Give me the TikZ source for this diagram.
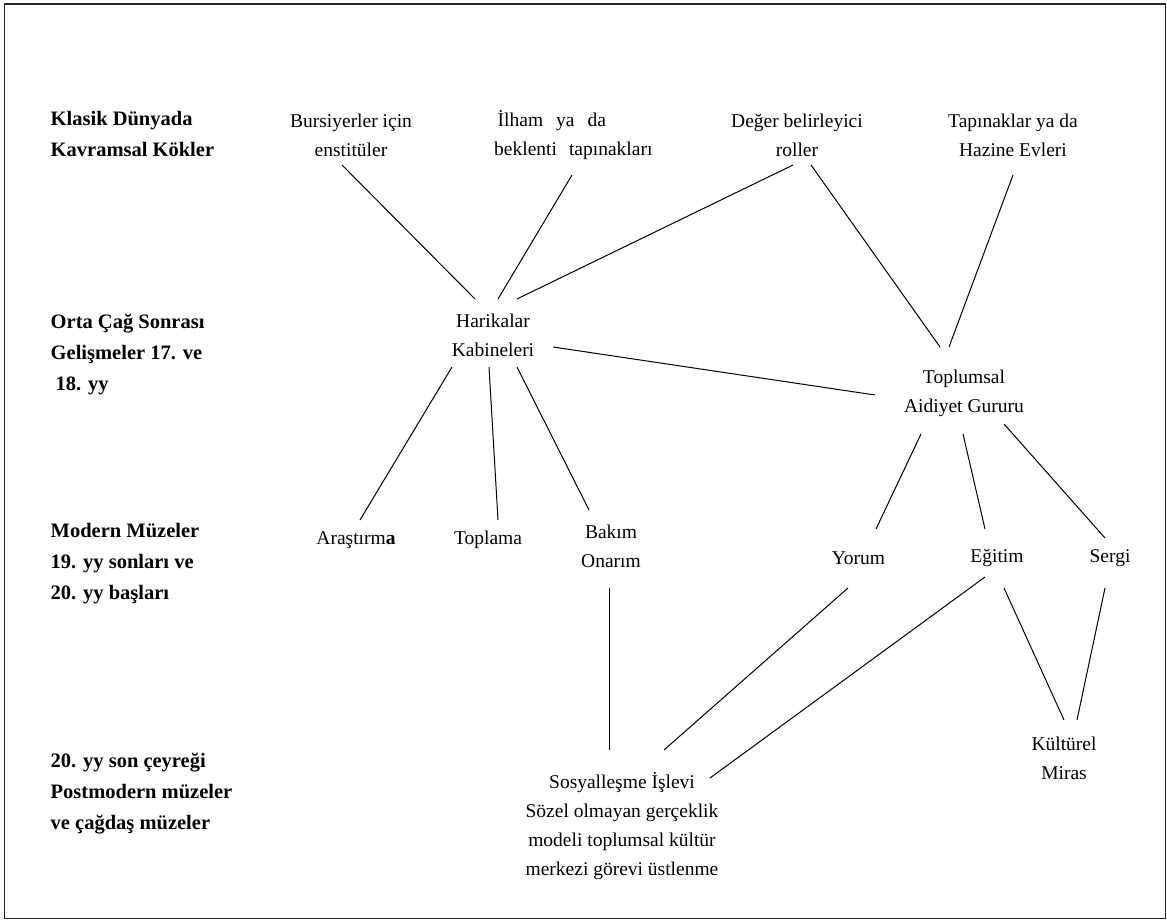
\documentclass[tikz,border=0pt]{standalone}
\usepackage{fontspec}
\setmainfont{Liberation Serif}
\usetikzlibrary{calc}
\begin{document}
\begin{tikzpicture}[x=1pt,y=-1pt,
  lbl/.style={font=\fontsize{19.5}{29}\selectfont, align=center, inner sep=0pt},
  era/.style={font=\fontsize{20.5}{31}\selectfont\bfseries, align=left, anchor=west, inner sep=0pt},
  link/.style={line width=1pt, black}]
\useasboundingbox (0,0) rectangle (1167,920);
\draw[line width=1.8pt, black!85] (4.5,4) rectangle (1165.5,918.5);

% period labels on the left
\node[era] (k1) at (50.5,134) {Klasik Dünyada\\Kavramsal Kökler};
\node[era] (k2) at (50.5,354) {Orta Çağ Sonrası\\Gelişmeler 17. ve\\\hspace*{5pt}18. yy};
\node[era] (k3) at (50.5,564) {Modern Müzeler\\19. yy sonları ve\\20. yy başları};
\node[era] (k4) at (50.5,794) {20. yy son çeyreği\\Postmodern müzeler\\ve çağdaş müzeler};

% concept nodes
\node[lbl] (burs)   at (351,135.5) {Bursiyerler için\\enstitüler};
\node[lbl, align=left, anchor=west] (ilham) at (494,135.5)
  {\hspace*{3.5pt}İlham\hspace{13pt}ya\hspace{13pt}da\\beklenti\hspace{12pt}tapınakları};
\node[lbl] (deger)  at (797,135.5) {Değer belirleyici\\roller};
\node[lbl] (tapin)  at (1013,135.5) {Tapınaklar ya da\\Hazine Evleri};
\node[lbl] (har)    at (493,335.5) {Harikalar\\Kabineleri};
\node[lbl] (top)    at (964,393) {Toplumsal\\Aidiyet Gururu};
\node[lbl] (aras)   at (356,540) {Araştırm\textbf{a}};
\node[lbl] (topl)   at (488,540) {Toplama};
\node[lbl] (bakim)  at (611,546) {Bakım\\Onarım};
\node[lbl] (yorum)  at (858.5,558) {Yorum};
\node[lbl] (egitim) at (997,558) {Eğitim};
\node[lbl] (sergi)  at (1110,558) {Sergi};
\node[lbl] (kult)   at (1064,758) {Kültürel\\Miras};
\node[lbl] (sos)    at (622,826) {Sosyalleşme İşlevi\\Sözel olmayan gerçeklik\\modeli toplumsal kültür\\merkezi görevi üstlenme};

% connectors
\draw[link] ($(burs)+(-9,29.5)$)       -- ($(har)+(-18,-36.5)$);
\draw[link] ($(ilham.west)+(78,39.5)$) -- ($(har)+(5,-36.5)$);
\draw[link] ($(deger)+(-4,29.5)$)      -- ($(har)+(24,-36.5)$);
\draw[link] ($(deger)+(14,29.5)$)      -- ($(top)+(-24,-46)$);
\draw[link] ($(tapin)+(0,39.5)$)       -- ($(top)+(-15,-46)$);
\draw[link] ($(har)+(60,11.5)$)        -- ($(top)+(-89,2)$);
\draw[link] ($(har)+(-41,31.5)$)       -- ($(aras)+(4,-20)$);
\draw[link] ($(har)+(-4,31.5)$)        -- ($(topl)+(10,-20)$);
\draw[link] ($(har)+(24,31.5)$)        -- ($(bakim)+(-22,-36)$);
\draw[link] ($(top)+(-43,41)$)         -- ($(yorum)+(17.5,-29)$);
\draw[link] ($(top)+(-1,41)$)          -- ($(egitim)+(-12,-29)$);
\draw[link] ($(top)+(40,31)$)          -- ($(sergi)+(-5,-20)$);
\draw[link] ($(bakim)+(-2,42)$)        -- ($(sos)+(-13,-76)$);
\draw[link] ($(yorum)+(-10.5,30)$)     -- ($(sos)+(42,-76)$);
\draw[link] ($(egitim)+(-12,19)$)      -- ($(sos)+(88,-48)$);
\draw[link] ($(egitim)+(7,30)$)        -- ($(kult)+(0,-38)$);
\draw[link] ($(sergi)+(-5,30)$)        -- ($(kult)+(13,-38)$);
\end{tikzpicture}
\end{document}
